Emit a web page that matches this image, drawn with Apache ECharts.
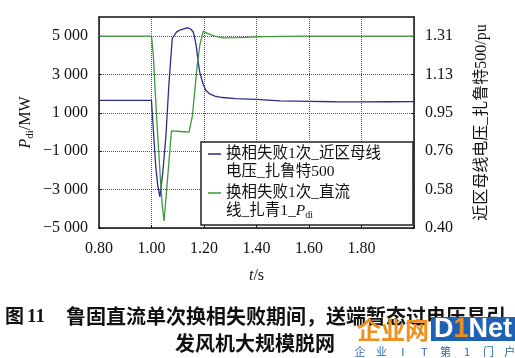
<!DOCTYPE html>
<html><head><meta charset="utf-8">
<script src="https://cdn.jsdelivr.net/npm/echarts@6/dist/echarts.min.js"></script>
<style>html,body{margin:0;padding:0;background:#fff}#c{width:515px;height:358px}</style>
</head><body><div id="c"></div>
<script>
// ---- data ----
const seriesNames = ['换相失败1次_近区母线电压_扎鲁特500', '换相失败1次_直流线_扎青1_Pdi'];
const legendLabels = ['换相失败1次_近区母线\n电压_扎鲁特500', '换相失败1次_直流\n线_扎青1_{i|P}{s|di}'];

const voltTime = [0.80, 1.000, 1.003, 1.016, 1.024, 1.032, 1.043, 1.055, 1.066, 1.079, 1.095, 1.108, 1.125, 1.139, 1.150, 1.159, 1.163, 1.170, 1.178, 1.184, 1.197, 1.207, 1.222, 1.241, 1.271, 1.32, 1.40, 1.49, 1.60, 1.70, 1.80, 1.90, 2.00];
const voltPu   = [1.005, 1.005, 0.943, 0.695, 0.600, 0.548, 0.662, 0.838, 1.077, 1.299, 1.329, 1.339, 1.346, 1.350, 1.343, 1.330, 1.310, 1.267, 1.186, 1.138, 1.081, 1.053, 1.036, 1.026, 1.019, 1.014, 1.010, 1.003, 1.001, 0.999, 0.998, 0.999, 1.000];

const pdiTime = [0.80, 1.000, 1.002, 1.007, 1.019, 1.032, 1.041, 1.048, 1.076, 1.110, 1.143, 1.156, 1.165, 1.174, 1.184, 1.197, 1.215, 1.241, 1.273, 1.336, 1.40, 1.49, 1.60, 2.00];
const pdiMW   = [5000, 5000, 4990, 4005, 864, -2016, -3849, -4634, 60, 30, 0, 864, 2173, 3482, 4529, 5262, 5131, 5000, 4911, 4921, 4963, 4990, 5000, 5000];

const xTickValues = [0.8, 1.0, 1.2, 1.4, 1.6, 1.8];
const xTickLabels = ['0.80', '1.00', '1.20', '1.40', '1.60', '1.80'];
const leftTickValues = [-5000, -3000, -1000, 1000, 3000, 5000];
const leftTickLabels = ['−5 000', '−3 000', '−1 000', '1 000', '3 000', '5 000'];
const rightTickLabels = ['0.40', '0.58', '0.76', '0.95', '1.13', '1.31'];

const captionLine1Head = '图';
const captionLine1Num = '11';
const captionLine1 = '鲁固直流单次换相失败期间，送端暂态过电压易引';
const captionLine2 = '发风机大规模脱网';
const wmOrange = '企业网';
const wmSmall = ['企', '业', 'I', 'T', '第', '1', '门', '户'];

// ---- derived ----
const leftMin = -5000, leftMax = 6000;
const rMin = parseFloat(rightTickLabels[0]), rTop = parseFloat(rightTickLabels[rightTickLabels.length - 1]);
const rStep = (rTop - rMin) / (rightTickLabels.length - 1);
const rightTickValues = rightTickLabels.map((s, i) => rMin + i * rStep);
const rMax = rMin + (rTop - rMin) * (leftMax - leftMin) / (leftTickValues[leftTickValues.length - 1] - leftMin);

const SERIF = '"Liberation Serif","Noto Sans CJK SC",serif';
const CJK = '"Noto Sans CJK SC","Liberation Serif",sans-serif';
const txt = '#111';

const chart = echarts.init(document.getElementById('c'), null, {renderer: 'canvas'});
const gridLine = () => ({show: true, lineStyle: {color: '#555', type: 'dotted', width: 1}});
const boxLine = () => ({show: true, onZero: false, lineStyle: {color: '#111', width: 1.5}});

// grid lines as mark lines drawn through the axes' own scales
const gridMarks = xTickValues.slice(1).map(v => ({xAxis: v}))
  .concat(leftTickValues.slice(1).map(v => ({yAxis: v})));

const option = {
  animation: false,
  grid: {left: 99, right: 101, top: 17, bottom: 130},
  xAxis: [{
    type: 'value', min: 0.8, max: 2.0, interval: 0.2, position: 'bottom',
    axisLine: boxLine(),
    axisTick: {show: true, inside: true, length: 3, lineStyle: {color: '#111'}},
    axisLabel: {margin: 13, color: txt, fontFamily: SERIF, fontSize: 16,
      formatter: v => { const i = Math.round((v - 0.8) / 0.2); return i < xTickLabels.length ? xTickLabels[i] : ''; }},
    splitLine: gridLine(),
    name: '{i|t}/s', nameLocation: 'middle', nameGap: 40,
    nameTextStyle: {color: txt, fontFamily: SERIF, fontSize: 16, rich: {i: {fontStyle: 'italic', fontFamily: SERIF, fontSize: 16}}}
  }, {
    type: 'value', min: 0.8, max: 2.0, interval: 0.2, position: 'top',
    axisLine: boxLine(), axisTick: {show: false}, axisLabel: {show: false}, splitLine: {show: false}
  }],
  yAxis: [
    {
      type: 'value', min: leftMin, max: leftMax, position: 'left',
      axisLine: boxLine(),
      axisTick: {show: true, inside: true, length: 3, customValues: leftTickValues, lineStyle: {color: '#111'}},
      axisLabel: {margin: 11, color: txt, fontFamily: SERIF, fontSize: 16, customValues: leftTickValues,
        formatter: v => { const i = leftTickValues.indexOf(Math.round(v)); return i >= 0 ? leftTickLabels[i] : ''; }},
      splitLine: gridLine(),
      name: '{i|P}{s|di}/MW', nameLocation: 'middle', nameGap: 63, nameMoveOverlap: false,
      nameTextStyle: {color: txt, fontFamily: SERIF, fontSize: 16, lineHeight: 20,
        rich: {i: {fontStyle: 'italic', fontFamily: SERIF, fontSize: 16, lineHeight: 20},
               s: {fontFamily: SERIF, fontSize: 11, lineHeight: 12, verticalAlign: 'bottom'}}}
    },
    {
      type: 'value', min: rMin, max: rMax, position: 'right',
      axisLine: boxLine(),
      axisTick: {show: true, inside: true, length: 3, customValues: rightTickValues, lineStyle: {color: '#111'}},
      axisLabel: {margin: 11, color: txt, fontFamily: SERIF, fontSize: 16, customValues: rightTickValues,
        formatter: v => { let b = 0, d = 1e9; rightTickValues.forEach((t, i) => { if (Math.abs(t - v) < d) { d = Math.abs(t - v); b = i; } }); return rightTickLabels[b]; }},
      splitLine: {show: false},
      name: '近区母线电压_扎鲁特500/pu', nameLocation: 'middle', nameGap: 60, nameRotate: 90,
      nameTextStyle: {color: txt, fontFamily: SERIF, fontSize: 16}
    }
  ],
  legend: {
    data: seriesNames,
    orient: 'vertical', left: 201, top: 142,
    padding: [3, 32, 5, 7], itemGap: 3, itemWidth: 13, itemHeight: 36, itemTextGap: 10,
    icon: 'path://M0,8.3h13v1.4h-13z M0,0h0.01v0.01h-0.01z M0,36h0.01v0.01h-0.01z',
    backgroundColor: '#fff', borderColor: '#222', borderWidth: 1.5, borderRadius: 0,
    selectedMode: false,
    formatter: n => legendLabels[seriesNames.indexOf(n)],
    textStyle: {color: txt, fontFamily: SERIF, fontSize: 15.5, lineHeight: 18,
      rich: {i: {fontStyle: 'italic', fontFamily: SERIF, fontSize: 15.5, lineHeight: 18},
             s: {fontFamily: SERIF, fontSize: 10, lineHeight: 10, verticalAlign: 'bottom'}}}
  },
  series: [
    {name: seriesNames[0], type: 'line', xAxisIndex: 0, yAxisIndex: 1, showSymbol: false, symbol: 'none', color: '#2b2c8c',
     lineStyle: {width: 1.3, color: '#2b2c8c'}, data: voltTime.map((t, i) => [t, voltPu[i]])},
    {name: seriesNames[1], type: 'line', xAxisIndex: 0, yAxisIndex: 0, showSymbol: false, symbol: 'none', color: '#3b9a3b',
     lineStyle: {width: 1.3, color: '#3b9a3b'}, data: pdiTime.map((t, i) => [t, pdiMW[i]]),
     markLine: {silent: true, symbol: 'none', animation: false, z: 0, label: {show: false},
       emphasis: {disabled: true}, lineStyle: {color: '#555', type: 'dotted', width: 1},
       data: gridMarks}}
  ],
  graphic: [
    {type: 'text', x: 5, y: 316, style: {text: captionLine1Head, fontFamily: CJK, fontSize: 19, fontWeight: 'bold', fill: txt, textVerticalAlign: 'middle'}},
    {type: 'text', x: 27, y: 317, style: {text: captionLine1Num, fontFamily: SERIF, fontSize: 19, fontWeight: 'bold', fill: txt, textVerticalAlign: 'middle'}},
    {type: 'text', x: 66, y: 316, style: {text: captionLine1, fontFamily: CJK, fontSize: 20, fontWeight: 'bold', fill: txt, textVerticalAlign: 'middle'}},
    {type: 'text', x: 255, y: 343, style: {text: captionLine2, fontFamily: CJK, fontSize: 20, fontWeight: 'bold', fill: txt, textAlign: 'center', textVerticalAlign: 'middle'}},
    {type: 'text', x: 357, y: 330, style: {text: wmOrange, fontFamily: CJK, fontSize: 24, fontWeight: 'bold', fill: '#f0901c', textVerticalAlign: 'middle'}},
    {type: 'rect', shape: {x: 431, y: 317, width: 84, height: 24}, style: {fill: '#1f62b4'}},
    {type: 'text', x: 473, y: 330, style: {text: '{w|D}{o|1}{w|Net}', textAlign: 'center', textVerticalAlign: 'middle',
      rich: {w: {fontFamily: '"Liberation Sans",sans-serif', fontSize: 27, fontWeight: 'bold', fill: '#fff'},
             o: {fontFamily: '"Liberation Sans",sans-serif', fontSize: 27, fontWeight: 'bold', fill: '#f0901c'}}}}
  ].concat(wmSmall.map((c, i) => ({type: 'text', x: 360 + i * 21.4, y: 352,
      style: {text: c, fontFamily: CJK, fontSize: 11, fill: '#2a6bb8', textAlign: 'center', textVerticalAlign: 'middle'}})))
};
chart.setOption(option);
</script>
</body></html>
